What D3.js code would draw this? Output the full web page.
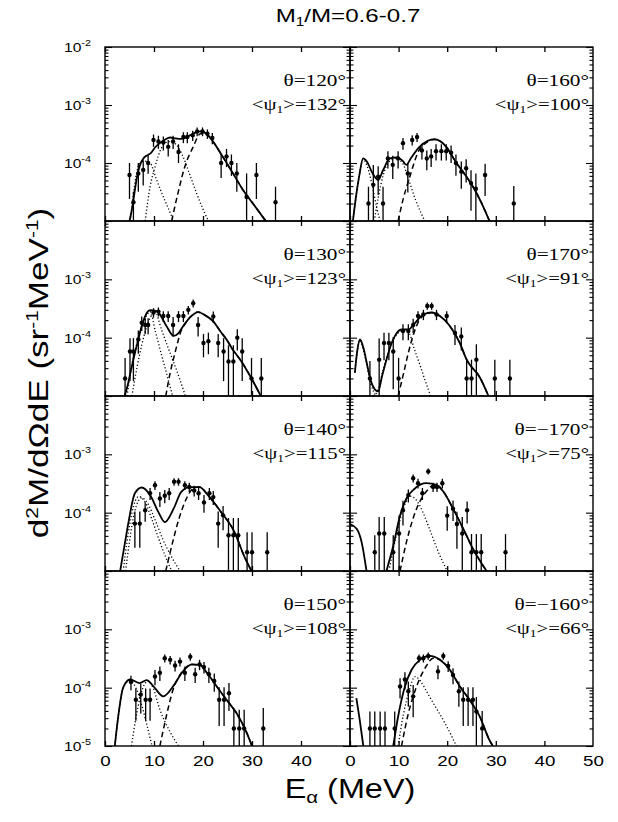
<!DOCTYPE html>
<html><head><meta charset="utf-8">
<script src="https://cdnjs.cloudflare.com/ajax/libs/d3/7.8.5/d3.min.js"></script>
<style>body{margin:0;background:#fff}svg{display:block}</style>
</head><body><svg id="c" width="618" height="822"></svg>
<script>
// ---------- data ----------
const energyTicksLeft = [0,10,20,30,40];
const energyTicksRight = [0,10,20,30,40,50];
const yMajor = [1e-5,1e-4,1e-3,1e-2];
const thetaLabels = ["θ=120°","θ=130°","θ=140°","θ=150°","θ=160°","θ=170°","θ=−170°","θ=−160°"];
const psiValues = ["132°","123°","115°","108°","100°","91°","75°","66°"];

// points: [E (MeV), yield, error]
const pts120 = [[5.0,6.2e-5,3.8e-5],[5.8,2.1e-5,1.1e-5],[6.8,6.6e-5,3.4e-5],[7.8,7.6e-5,3.5e-5],[8.8,1.0e-4,3.5e-5],[9.9,2.5e-4,6e-5],[10.9,2.35e-4,6e-5],[11.9,2.25e-4,6e-5],[12.9,1.9e-4,6e-5],[13.9,2.35e-4,6e-5],[15.0,1.55e-4,5.5e-5],[16.0,2.8e-4,6e-5],[16.8,2.8e-4,6e-5],[17.9,3.0e-4,6e-5],[18.8,3.5e-4,6e-5],[19.9,3.5e-4,6e-5],[20.9,3.2e-4,6e-5],[21.9,2.7e-4,6e-5],[23.7,1.0e-4,4.5e-5],[24.8,1.3e-4,4.5e-5],[25.8,1.0e-4,4e-5],[26.9,6.6e-5,3.4e-5],[28.9,2.6e-5,4e-5],[30.9,6.2e-5,3.8e-5],[34.8,2.1e-5,1.8e-5]];
const solid120 = [[[5.0,1e-5],[5.5,1.6e-5],[6.0,3e-5],[6.5,5.6e-5],[7.1,9e-5],[8.0,1.25e-4],[8.8,1.38e-4],[9.4,1.5e-4],[10.2,1.85e-4],[11.2,2.2e-4],[12.3,2.55e-4],[13.3,2.75e-4],[14.5,2.65e-4],[15.6,2.6e-4],[17.0,2.9e-4],[18.3,3.3e-4],[19.5,3.5e-4],[20.7,3.2e-4],[21.8,2.5e-4],[23.8,1.38e-4],[25.9,7.1e-5],[28.2,3.4e-5],[30.6,1.8e-5],[32.8,1e-5]]];
const dotA120 = [[5.2,1e-5],[6.0,4e-5],[7.0,9.5e-5],[8.0,1.08e-4],[9.2,1.0e-4],[10.4,5.5e-5],[11.6,3e-5],[12.8,1.75e-5],[14.0,1e-5]];
const dotB120 = [[8.2,1e-5],[9.2,3.9e-5],[10.2,8.5e-5],[11.5,1.8e-4],[13.0,2.35e-4],[14.5,2.1e-4],[15.9,1.3e-4],[17.3,6.3e-5],[18.7,3e-5],[20.0,1.6e-5],[21.1,1e-5]];
const dash120 = [[13.6,1e-5],[14.8,2.8e-5],[16.3,8.7e-5],[18.0,1.9e-4],[19.5,3.2e-4],[20.7,3.15e-4],[21.8,2.5e-4],[23.8,1.38e-4],[25.9,7.1e-5],[28.2,3.4e-5],[30.6,1.8e-5],[32.8,1e-5]];

const pts130 = [[4.1,2.0e-5,2.5e-5],[5.1,5.8e-5,4e-5],[5.8,5.8e-5,4e-5],[6.8,9.3e-5,4e-5],[7.5,1.8e-4,5e-5],[8.2,1.65e-4,5e-5],[8.8,1.65e-4,5e-5],[9.9,2.7e-4,5e-5],[10.9,2.8e-4,5e-5],[11.9,2.35e-4,5e-5],[12.9,2.35e-4,5e-5],[13.9,1.65e-4,6e-5],[15.0,2.35e-4,5e-5],[16.0,2.35e-4,5e-5],[17.0,3.0e-4,5e-5],[18.0,3.9e-4,6e-5],[19.0,1.65e-4,6e-5],[20.1,8.1e-5,3.5e-5],[21.1,8.7e-5,3.5e-5],[22.1,2.3e-4,5e-5],[23.1,8.1e-5,3.5e-5],[24.2,5.8e-5,4e-5],[25.2,3.9e-5,3.5e-5],[26.2,3.9e-5,3.5e-5],[27.0,1.0e-4,4e-5],[28.0,5.8e-5,4e-5],[29.9,2.0e-5,2.5e-5],[31.9,2.0e-5,2.5e-5]];
const solid130 = [[[4.0,1e-5],[4.6,1.5e-5],[5.1,2.3e-5],[6.0,5e-5],[6.8,9.3e-5],[7.5,1.6e-4],[8.2,2.35e-4],[9.2,2.95e-4],[10.2,2.9e-4],[10.9,2.7e-4],[12.6,1.55e-4],[14.0,1.07e-4],[15.0,1.2e-4],[16.0,1.6e-4],[17.5,2.3e-4],[19.0,2.75e-4],[20.5,2.4e-4],[22.1,1.9e-4],[23.5,1.3e-4],[24.8,9.3e-5],[26.2,6e-5],[27.6,4.2e-5],[29.9,2.0e-5],[31.8,1e-5]]];
const dotA130 = [[4.5,1e-5],[5.5,3.5e-5],[6.5,8e-5],[7.5,1.5e-4],[8.5,2.4e-4],[9.2,2.8e-4],[10.3,1.26e-4],[11.5,5.2e-5],[12.9,1.9e-5],[13.8,1e-5]];
const dotB130 = [[5.5,1e-5],[6.5,3e-5],[7.5,7.5e-5],[8.8,1.8e-4],[10.2,2.8e-4],[11.5,1.4e-4],[12.8,7e-5],[14.0,3.8e-5],[15.3,1.9e-5],[16.4,1e-5]];
const dash130 = [[12.4,1e-5],[13.3,2.5e-5],[14.4,6e-5],[15.6,1.35e-4],[16.5,1.8e-4],[17.5,2.3e-4],[19.0,2.75e-4],[20.5,2.4e-4],[22.1,1.9e-4],[23.5,1.3e-4],[24.8,9.3e-5],[26.2,6e-5],[27.6,4.2e-5],[29.9,2.0e-5],[31.8,1e-5]];

const pts140 = [[6.1,6.5e-5,4e-5],[7.1,6.5e-5,4e-5],[8.2,1.1e-4,4e-5],[9.2,2.15e-4,5e-5],[10.2,2.95e-4,5e-5],[11.2,1.75e-4,5e-5],[12.2,1.95e-4,5e-5],[13.1,2.15e-4,5e-5],[14.1,3.4e-4,5e-5],[15.0,3.4e-4,5e-5],[16.3,2.95e-4,5e-5],[17.2,2.75e-4,5e-5],[18.2,2.4e-4,5e-5],[19.1,2.15e-4,5e-5],[20.2,1.5e-4,5e-5],[21.3,2.15e-4,5e-5],[22.1,1.85e-4,5e-5],[23.1,6.5e-5,4e-5],[24.1,9e-5,4e-5],[25.2,4.1e-5,4e-5],[26.2,4.1e-5,4e-5],[27.2,4.1e-5,4e-5],[29.0,2.1e-5,2.5e-5],[30.0,2.1e-5,2.5e-5],[33.1,2.1e-5,2.5e-5]];
const solid140 = [[[3.1,1e-5],[4.0,2.8e-5],[4.8,6.9e-5],[6.1,2.15e-4],[7.5,2.7e-4],[9.2,2.0e-4],[10.9,1.02e-4],[12.2,6.9e-5],[14.0,1.17e-4],[15.6,2.3e-4],[17.3,2.75e-4],[19.3,2.75e-4],[21.0,2.0e-4],[23.7,1.02e-4],[26.4,4.7e-5],[28.4,1.8e-5],[29.9,1e-5]]];
const dotA140 = [[3.7,1e-5],[4.5,3.2e-5],[5.5,1e-4],[6.9,1.9e-4],[8.2,1.5e-4],[9.5,8e-5],[11.0,3.5e-5],[12.3,1.8e-5],[13.6,1e-5]];
const dotB140 = [[4.2,1e-5],[5.0,3.2e-5],[6.0,1e-4],[7.5,1.8e-4],[8.8,1.4e-4],[10.2,7.6e-5],[11.8,3.5e-5],[13.5,1.8e-5],[15.3,1e-5]];
const dash140 = [[12.4,1e-5],[13.8,3.1e-5],[15.1,7.9e-5],[16.7,1.8e-4],[18.0,2.6e-4],[19.3,2.75e-4],[21.0,2.0e-4],[23.7,1.02e-4],[26.4,4.7e-5],[28.4,1.8e-5],[29.9,1e-5]];

const pts150 = [[5.3,1.25e-4,3.5e-5],[6.3,6.2e-5,3.5e-5],[7.3,7.6e-5,4e-5],[8.3,6.2e-5,3.5e-5],[9.2,6.2e-5,3.5e-5],[10.2,1.55e-4,4.5e-5],[11.2,1.8e-4,5e-5],[12.2,3.2e-4,5e-5],[13.3,3.0e-4,5e-5],[14.3,2.4e-4,5e-5],[15.3,2.8e-4,5e-5],[16.3,1.8e-4,5e-5],[17.4,3.4e-4,5e-5],[18.4,1.7e-4,5e-5],[19.3,2.5e-4,5e-5],[20.2,2.25e-4,5e-5],[21.2,1.7e-4,5e-5],[22.3,1.3e-4,4.5e-5],[23.3,6.2e-5,4e-5],[24.3,6.2e-5,4e-5],[25.3,8e-5,4e-5],[26.3,2.0e-5,2.2e-5],[27.4,2.0e-5,2.2e-5],[28.4,2.0e-5,2.2e-5],[32.3,2.0e-5,2.5e-5]];
const solid150 = [[[2.0,1e-5],[2.7,3.2e-5],[3.7,1.0e-4],[5.1,1.38e-4],[7.1,1.2e-4],[8.5,1.35e-4],[9.9,1.05e-4],[11.9,7.1e-5],[13.9,1.05e-4],[15.9,1.9e-4],[17.7,2.5e-4],[19.4,2.45e-4],[20.8,1.8e-4],[22.8,1.05e-4],[24.8,6.2e-5],[26.9,3.6e-5],[28.9,1.7e-5],[30.0,1e-5]]];
const dotA150 = [[2.0,1e-5],[2.7,3.2e-5],[3.7,1.0e-4],[5.0,1.3e-4],[6.3,1.0e-4],[7.5,5e-5],[8.6,2.2e-5],[9.6,1e-5]];
const dotB150 = [[5.4,1e-5],[6.3,3e-5],[7.2,7e-5],[8.2,1.2e-4],[8.8,1.3e-4],[9.8,1.0e-4],[11.2,4.2e-5],[13.2,1.8e-5],[15.0,1e-5]];
const dash150 = [[11.2,1e-5],[12.5,3.2e-5],[13.9,9.3e-5],[15.6,1.8e-4],[17.7,2.5e-4],[19.4,2.45e-4],[20.8,1.8e-4],[22.8,1.05e-4],[24.8,6.2e-5],[26.9,3.6e-5],[28.9,1.7e-5],[30.0,1e-5]];

const pts160 = [[3.8,2.0e-5,1.9e-5],[4.8,4.2e-5,5e-5],[5.8,5.8e-5,3e-5],[6.8,2.0e-5,1.9e-5],[7.8,1.2e-4,4e-5],[8.8,9.3e-5,4e-5],[9.9,1.2e-4,4e-5],[10.9,2.2e-4,5e-5],[11.9,6.6e-5,3.5e-5],[12.8,2.5e-4,5e-5],[13.8,2.8e-4,5e-5],[14.8,1.65e-4,5e-5],[15.8,1.2e-4,4.5e-5],[16.7,1.3e-4,4.5e-5],[17.7,1.6e-4,5e-5],[18.8,1.6e-4,5e-5],[19.8,1.6e-4,5e-5],[20.8,1.5e-4,5e-5],[21.8,1.0e-4,4e-5],[22.9,7.1e-5,3.5e-5],[23.9,8.1e-5,3.5e-5],[24.9,4.5e-5,3e-5],[25.9,3.6e-5,3e-5],[27.8,6.2e-5,3.5e-5],[33.7,2.0e-5,2e-5]];
const solid160 = [[[0.6,1e-5],[1.2,2.5e-5],[1.9,6e-5],[2.7,1.2e-4],[3.5,1.05e-4],[4.5,7e-5],[5.8,5.1e-5],[6.8,7.5e-5],[8.2,1.2e-4],[9.6,1.25e-4],[10.8,1.1e-4],[11.6,9.3e-5],[12.5,1.2e-4],[14.3,1.9e-4],[15.9,2.4e-4],[17.4,2.57e-4],[18.8,2.3e-4],[19.8,1.9e-4],[21.9,1.0e-4],[23.6,6.4e-5],[25.3,3.9e-5],[27.0,2.1e-5],[28.7,1e-5]]];
const dotA160 = [[0.6,1e-5],[1.2,2.5e-5],[1.9,6e-5],[2.7,1.15e-4],[3.6,8.5e-5],[4.6,4e-5],[5.5,1.7e-5],[6.2,1e-5]];
const dotB160 = [[5.0,1e-5],[5.8,2.5e-5],[6.8,6e-5],[8.0,1.05e-4],[9.5,1.2e-4],[10.8,1.0e-4],[12.1,5.1e-5],[13.5,2.3e-5],[15.4,1e-5]];
const dash160 = [[9.9,1e-5],[11.0,2.5e-5],[12.1,5.1e-5],[14.2,1.65e-4],[15.9,2.3e-4],[17.4,2.55e-4],[18.8,2.3e-4],[19.8,1.9e-4],[21.9,1.0e-4],[23.6,6.4e-5],[25.3,3.9e-5],[27.0,2.1e-5],[28.7,1e-5]];

const pts170 = [[4.1,2e-5,2e-5],[6.0,4.2e-5,5.5e-5],[7.0,8.1e-5,4e-5],[8.0,8.1e-5,4e-5],[8.9,5.8e-5,4.5e-5],[10.0,2e-5,2.5e-5],[10.9,1.3e-4,4e-5],[12.0,1.3e-4,4e-5],[13.0,1.65e-4,4.5e-5],[14.0,2.35e-4,5e-5],[15.1,2.5e-4,5e-5],[15.9,3.5e-4,5e-5],[16.8,3.5e-4,5e-5],[17.8,2.5e-4,5e-5],[19.9,2.35e-4,5e-5],[21.6,1.2e-4,4.5e-5],[22.9,1.05e-4,4.5e-5],[24.0,2e-5,2.2e-5],[25.0,2e-5,2.2e-5],[26.0,4.2e-5,3.5e-5],[29.8,2e-5,2.2e-5],[32.9,2e-5,2.2e-5]];
const solid170 = [[[1.0,2.5e-5],[1.5,6e-5],[2.05,9.3e-5],[2.8,6.5e-5],[3.6,3.2e-5],[4.3,1.8e-5],[5.1,1.3e-5],[5.8,1.2e-5],[6.6,2.2e-5],[7.5,4.2e-5],[8.3,7e-5],[9.2,1.05e-4],[10.6,1.38e-4],[12.0,1.38e-4],[13.4,1.8e-4],[15.1,2.5e-4],[16.8,2.7e-4],[18.5,2.35e-4],[20.5,1.6e-4],[22.6,8.1e-5],[24.0,4.2e-5],[26.7,2.1e-5],[28.5,1e-5]]];
const dotA170 = [[1.0,2.5e-5],[1.5,6e-5],[2.05,9e-5],[3.0,5e-5],[4.3,1.6e-5],[5.3,1e-5]];
const dotB170 = [[4.8,1e-5],[5.8,1.3e-5],[6.8,2.8e-5],[8.0,6e-5],[9.5,1.1e-4],[10.8,1.3e-4],[12.0,1.25e-4],[13.2,6.5e-5],[14.5,3.2e-5],[15.5,1.8e-5],[16.6,1e-5]];
const dash170 = [[9.9,1e-5],[11.0,2.4e-5],[12.0,5.5e-5],[13.0,1.1e-4],[13.7,1.6e-4],[15.1,2.4e-4],[16.8,2.7e-4],[18.5,2.35e-4],[20.5,1.6e-4],[22.6,8.1e-5],[24.0,4.2e-5],[26.7,2.1e-5],[28.5,1e-5]];

const ptsM170 = [[5.1,2.1e-5,2e-5],[6.0,4.4e-5,4e-5],[7.05,4.4e-5,4e-5],[8.9,2.1e-5,2e-5],[10.1,4.4e-5,4.5e-5],[10.9,1.1e-4,5e-5],[12.0,2.0e-4,5e-5],[13.0,3.9e-4,6e-5],[14.0,3.2e-4,6e-5],[14.9,2.15e-4,5e-5],[16.1,5.1e-4,6e-5],[17.1,2.75e-4,5e-5],[17.9,2.75e-4,5e-5],[19.0,3.2e-4,6e-5],[20.0,8.9e-5,4e-5],[21.2,1.17e-4,4.5e-5],[22.0,6.4e-5,4e-5],[23.1,4.4e-5,4e-5],[24.1,1.1e-4,4.5e-5],[25.0,2.1e-5,2.2e-5],[26.0,2.1e-5,2.2e-5],[27.0,2.1e-5,2.2e-5],[32.0,2.1e-5,2.2e-5]];
const solidM170 = [[[0,6.4e-5],[1.37,5.3e-5],[2.4,3.1e-5],[3.4,1e-5]],[[7.5,1e-5],[8.9,2.7e-5],[10.3,8.9e-5],[11.6,1.75e-4],[13.35,2.6e-4],[15.7,3.2e-4],[17.8,3e-4],[19.2,2.3e-4],[21.2,1.17e-4],[23.3,5.3e-5],[25.3,2.4e-5],[28.1,1e-5]]];
const dotAM170 = [[8.0,1e-5],[9.5,4e-5],[11.0,1.2e-4],[12.5,1.9e-4],[13.5,1.7e-4],[14.4,1.3e-4],[16.5,4.9e-5],[18.3,2e-5],[20.0,1e-5]];
const dashM170 = [[10.3,1e-5],[11.6,3.1e-5],[13.7,1.17e-4],[15.7,2.3e-4],[17.1,2.95e-4],[17.8,3e-4],[19.2,2.3e-4],[21.2,1.17e-4],[23.3,5.3e-5],[25.3,2.4e-5],[28.1,1e-5]];

const ptsM160 = [[4.1,2e-5,1.9e-5],[5.1,2e-5,1.9e-5],[6.2,2e-5,1.9e-5],[7.2,2e-5,1.9e-5],[9.2,2e-5,1.9e-5],[10.3,1.05e-4,4e-5],[11.3,1.38e-4,4.5e-5],[12.0,8.7e-5,4e-5],[13.0,7.1e-5,4e-5],[14.2,3.2e-4,5e-5],[15.1,3.2e-4,5e-5],[16.1,3.5e-4,5e-5],[18.1,1.9e-4,5e-5],[19.2,3.5e-4,5e-5],[20.2,2.35e-4,5e-5],[21.2,1.65e-4,5e-5],[22.4,8.7e-5,4e-5],[23.3,6.2e-5,4e-5],[24.3,6.2e-5,4e-5],[25.3,6.2e-5,4e-5],[26.0,3.9e-5,3e-5],[27.2,2e-5,2e-5]];
const solidM160 = [[[1.3,6.6e-5],[2.0,2.8e-5],[2.74,1e-5]],[[8.9,1e-5],[9.9,3.2e-5],[11.3,1.05e-4],[12.7,2.05e-4],[14.4,3e-4],[16.4,3.5e-4],[18.5,3e-4],[20.5,2.05e-4],[22.6,1.05e-4],[24.6,6.2e-5],[26.7,3.2e-5],[28.7,1.26e-5],[29.4,1e-5]]];
const dotAM160 = [[9.9,1e-5],[11.0,3.5e-5],[12.2,9e-5],[13.35,1.55e-4],[14.5,1.3e-4],[15.8,8.5e-5],[17.1,5.5e-5],[19.5,2.5e-5],[21.9,1e-5]];
const dashM160 = [[10.6,1e-5],[12.0,3.6e-5],[13.7,1.05e-4],[15.7,2.35e-4],[17.1,3.2e-4],[18.5,3e-4],[20.5,2.05e-4],[22.6,1.05e-4],[24.6,6.2e-5],[26.7,3.2e-5],[28.7,1.26e-5],[29.4,1e-5]];

// panel table built from the arrays (left column rows, then right column rows)
const panels = [
  {pts:pts120, solid:solid120, dotted:[dotA120,dotB120], dashed:dash120},
  {pts:pts130, solid:solid130, dotted:[dotA130,dotB130], dashed:dash130},
  {pts:pts140, solid:solid140, dotted:[dotA140,dotB140], dashed:dash140},
  {pts:pts150, solid:solid150, dotted:[dotA150,dotB150], dashed:dash150},
  {pts:pts160, solid:solid160, dotted:[dotA160,dotB160], dashed:dash160},
  {pts:pts170, solid:solid170, dotted:[dotA170,dotB170], dashed:dash170},
  {pts:ptsM170, solid:solidM170, dotted:[dotAM170], dashed:dashM170},
  {pts:ptsM160, solid:solidM160, dotted:[dotAM160], dashed:dashM160}
];

// ---------- layout ----------
const svg = d3.select("#c");
const colX = [[105,350],[350,593]];
const rowY = [[47,221],[221,396],[396,571],[571,746]];
const sans = "'Liberation Sans', Arial, sans-serif";
const serif = "'Liberation Serif', 'Times New Roman', serif";
const texts = [];

function stretch(sel,k){ sel.each(function(){ texts.push([this,k]); }); }

panels.forEach((p,i)=>{
  const col = i<4?0:1, row = i%4;
  const [xl,xr] = colX[col], [yt,yb] = rowY[row];
  const x = d3.scaleLinear().domain([0,50]).range([xl,xr]);
  const y = d3.scaleLog().domain([1e-5,1e-2]).range([yb,yt]);
  const g = svg.append("g");
  svg.append("clipPath").attr("id","cp"+i).append("rect")
    .attr("x",xl).attr("y",yt).attr("width",xr-xl).attr("height",yb-yt);
  const inner = g.append("g").attr("clip-path",`url(#cp${i})`);
  const line = d3.line().x(d=>x(d[0])).y(d=>y(d[1])).curve(d3.curveMonotoneX);

  p.dotted.forEach(c=>inner.append("path").attr("d",line(c)).attr("fill","none")
    .attr("stroke","#000").attr("stroke-width",1.3).attr("stroke-dasharray","1.2,2.2"));
  inner.append("path").attr("d",line(p.dashed)).attr("fill","none")
    .attr("stroke","#000").attr("stroke-width",1.5).attr("stroke-dasharray","5.5,3.5");
  p.solid.forEach(s=>inner.append("path").attr("d",line(s)).attr("fill","none")
    .attr("stroke","#000").attr("stroke-width",1.8));

  inner.selectAll("line.eb").data(p.pts).join("line").attr("class","eb")
    .attr("x1",d=>x(d[0])).attr("x2",d=>x(d[0]))
    .attr("y1",d=>y(Math.max(d[1]-d[2],1e-5))).attr("y2",d=>y(d[1]+d[2]))
    .attr("stroke","#000").attr("stroke-width",1.3);
  inner.selectAll("circle").data(p.pts).join("circle")
    .attr("cx",d=>x(d[0])).attr("cy",d=>y(d[1])).attr("r",2.2).attr("fill","#000");

  // frame
  g.append("rect").attr("x",xl).attr("y",yt).attr("width",xr-xl).attr("height",yb-yt)
    .attr("fill","none").attr("stroke","#000").attr("stroke-width",1.4);

  // y ticks (inward on both sides)
  const minor = y.ticks().filter(v=>!yMajor.some(m=>Math.abs(m-v)/m<1e-6));
  const mkAx = (ax,sz,vals,xpos)=>{
    const a = g.append("g").attr("transform",`translate(${xpos},0)`)
      .call(ax(y).tickValues(vals).tickSize(sz).tickFormat(""));
    a.select(".domain").remove();
    a.selectAll("line").attr("stroke-width",1.1);
  };
  mkAx(d3.axisRight,3.5,minor,xl); mkAx(d3.axisRight,7,yMajor,xl);
  mkAx(d3.axisLeft,3.5,minor,xr); mkAx(d3.axisLeft,7,yMajor,xr);

  // x ticks
  const xt = energyTicksLeft;
  [[d3.axisBottom,yb],[d3.axisTop,yt]].forEach(([ax,yp])=>{
    const a = g.append("g").attr("transform",`translate(0,${yp})`)
      .call(ax(x).tickValues(xt).tickSize(-5).tickFormat(""));
    a.select(".domain").remove();
    a.selectAll("line").attr("stroke-width",1.3);
  });

  // x tick labels on bottom row
  if(row===3){
    const a = g.append("g").attr("transform",`translate(0,${yb})`)
      .call(d3.axisBottom(x).tickValues(col===0?energyTicksLeft:energyTicksRight).tickSize(0).tickPadding(9));
    a.select(".domain").remove();
    a.selectAll("text").attr("font-family",sans).attr("font-size",15).attr("fill","#000");
    stretch(a.selectAll("text"),1.25);
  }

  // y tick labels on left column
  if(col===0){
    const vals = row===0?[1e-2,1e-3,1e-4]:row===3?[1e-3,1e-4,1e-5]:[1e-3,1e-4];
    vals.forEach(v=>{
      const t = g.append("text").attr("x",xl-14).attr("y",y(v)+5)
        .attr("text-anchor","end").attr("font-family",sans).attr("font-size",13);
      t.append("tspan").text("10");
      t.append("tspan").attr("dy",-6).attr("font-size",9).text(String(Math.round(Math.log10(v))));
      stretch(t,1.2);
    });
  }

  // annotations
  const t1 = g.append("text").attr("x",xr-4).attr("y",yt+39).attr("text-anchor","end")
    .attr("font-family",serif).attr("font-size",17).text(thetaLabels[i]);
  stretch(t1,1.25);
  const t2 = g.append("text").attr("x",xr-4).attr("y",yt+63).attr("text-anchor","end")
    .attr("font-family",serif).attr("font-size",17);
  t2.append("tspan").text("<ψ");
  t2.append("tspan").attr("font-size",11).attr("dy",3).text("1");
  t2.append("tspan").attr("dy",-3).text(">=" + psiValues[i]);
  stretch(t2,1.22);
});

// title
const title = svg.append("text").attr("x",348).attr("y",22).attr("text-anchor","middle")
  .attr("font-family",sans).attr("font-size",19);
title.append("tspan").text("M");
title.append("tspan").attr("font-size",12).attr("dy",4).text("1");
title.append("tspan").attr("dy",-4).text("/M=0.6-0.7");
stretch(title,1.27);

// x label
const xl = svg.append("text").attr("x",350).attr("y",798).attr("text-anchor","middle")
  .attr("font-family",sans).attr("font-size",27);
xl.append("tspan").text("E");
xl.append("tspan").attr("font-size",17).attr("dy",5).text("α");
xl.append("tspan").attr("dy",-5).text(" (MeV)");
stretch(xl,1.2);

// y label
const yl = svg.append("text").attr("transform","translate(48,373) rotate(-90)").attr("text-anchor","middle")
  .attr("font-family",sans).attr("font-size",27);
yl.append("tspan").text("d");
yl.append("tspan").attr("font-size",16).attr("dy",-10).text("2");
yl.append("tspan").attr("dy",10).text("M/dΩdE (sr");
yl.append("tspan").attr("font-size",16).attr("dy",-10).text("-1");
yl.append("tspan").attr("dy",10).text("MeV");
yl.append("tspan").attr("font-size",16).attr("dy",-10).text("-1");
yl.append("tspan").attr("dy",10).text(")");
stretch(yl,1.3);

texts.forEach(([el,k])=>{
  const w = el.getComputedTextLength();
  d3.select(el).attr("textLength",w*k).attr("lengthAdjust","spacingAndGlyphs");
});
</script></body></html>
